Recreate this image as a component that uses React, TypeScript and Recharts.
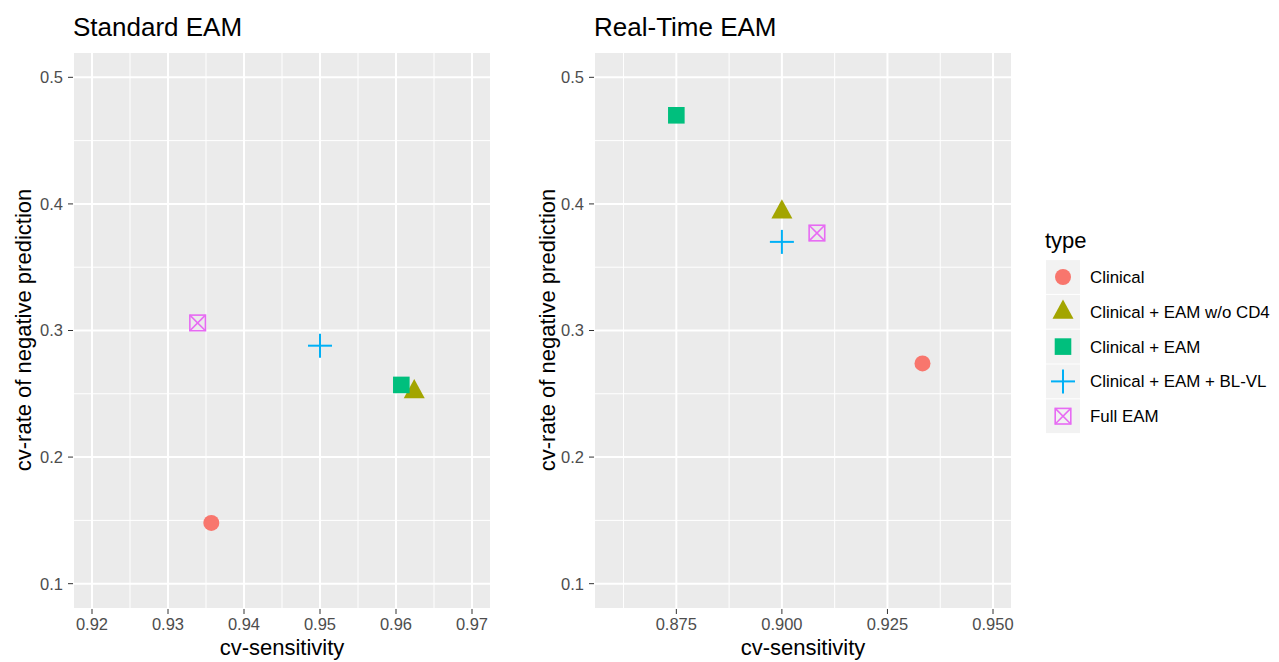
import React from "react";
import { ScatterChart, Scatter, XAxis, YAxis, CartesianGrid, ReferenceLine } from "recharts";

// model types, in legend order
const types = [
  "Clinical",
  "Clinical + EAM w/o CD4",
  "Clinical + EAM",
  "Clinical + EAM + BL-VL",
  "Full EAM",
];
const colors = ["#F8766D", "#A3A500", "#00BF7D", "#00B0F6", "#E76BF3"];

// Standard EAM panel
const standardSens = [0.9357, 0.9624, 0.9607, 0.95, 0.9339];
const standardNpr = [0.148, 0.252, 0.257, 0.288, 0.306];

// Real-Time EAM panel
const realTimeSens = [0.9333, 0.9, 0.875, 0.9, 0.9083];
const realTimeNpr = [0.274, 0.394, 0.47, 0.37, 0.377];

const yTicks = [0.1, 0.2, 0.3, 0.4, 0.5];
const yMinor = [0.15, 0.25, 0.35, 0.45];
const standardXTicks = [0.92, 0.93, 0.94, 0.95, 0.96, 0.97];
const standardXMinor = [0.925, 0.935, 0.945, 0.955, 0.965];
const realTimeXTicks = [0.875, 0.9, 0.925, 0.95];
const realTimeXMinor = [0.8625, 0.8875, 0.9125, 0.9375];

const FONT = "'Liberation Sans', Arial, Helvetica, sans-serif";
const PANEL_BG = "#EBEBEB";

// ggplot-like point shapes
const drawShape = (i: number, cx: number, cy: number, color: string) => {
  switch (i) {
    case 0:
      return <circle cx={cx} cy={cy} r={8} fill={color} />;
    case 1:
      return (
        <polygon
          points={`${cx},${cy - 12.2} ${cx + 10.5},${cy + 7} ${cx - 10.5},${cy + 7}`}
          fill={color}
        />
      );
    case 2:
      return <rect x={cx - 8.3} y={cy - 8.3} width={16.6} height={16.6} fill={color} />;
    case 3:
      return (
        <g stroke={color} strokeWidth={2}>
          <line x1={cx - 12} y1={cy} x2={cx + 12} y2={cy} />
          <line x1={cx} y1={cy - 12} x2={cx} y2={cy + 12} />
        </g>
      );
    default:
      return (
        <g stroke={color} strokeWidth={1.6} fill="none">
          <rect x={cx - 7.8} y={cy - 7.8} width={15.6} height={15.6} />
          <line x1={cx - 7.8} y1={cy - 7.8} x2={cx + 7.8} y2={cy + 7.8} />
          <line x1={cx + 7.8} y1={cy - 7.8} x2={cx - 7.8} y2={cy + 7.8} />
        </g>
      );
  }
};

type PanelProps = {
  left: number;
  sens: number[];
  npr: number[];
  xDomain: [number, number];
  xTicks: number[];
  xMinor: number[];
  digits: number;
};

function Panel({ left, sens, npr, xDomain, xTicks, xMinor, digits }: PanelProps) {
  return (
    <div style={{ position: "absolute", left, top: 0 }}>
      <ScatterChart width={500} height={662} margin={{ top: 52, right: 9, bottom: 0, left: 0 }}>
        <CartesianGrid fill={PANEL_BG} stroke="#FFFFFF" strokeWidth={2} />
        {xMinor.map((v) => (
          <ReferenceLine key={"x" + v} x={v} stroke="#FFFFFF" strokeWidth={1} />
        ))}
        {yMinor.map((v) => (
          <ReferenceLine key={"y" + v} y={v} stroke="#FFFFFF" strokeWidth={1} />
        ))}
        <XAxis
          type="number"
          dataKey="x"
          domain={xDomain}
          ticks={xTicks}
          interval={0}
          allowDataOverflow
          height={53}
          axisLine={false}
          tickSize={5}
          tickMargin={4}
          tickLine={{ stroke: "#333333", strokeWidth: 1 }}
          tick={{ fill: "#4D4D4D", fontSize: 16.5, fontFamily: FONT }}
          tickFormatter={(v: number) => v.toFixed(digits)}
        />
        <YAxis
          type="number"
          dataKey="y"
          domain={[0.08, 0.52]}
          ticks={yTicks}
          interval={0}
          allowDataOverflow
          width={73}
          axisLine={false}
          tickSize={5}
          tickMargin={5}
          tickLine={{ stroke: "#333333", strokeWidth: 1 }}
          tick={{ fill: "#4D4D4D", fontSize: 16.5, fontFamily: FONT }}
          tickFormatter={(v: number) => v.toFixed(1)}
        />
        {types.map((t, i) => (
          <Scatter
            key={t}
            name={t}
            data={[{ x: sens[i], y: npr[i] }]}
            isAnimationActive={false}
            shape={(p: any) => drawShape(i, p.cx, p.cy, colors[i])}
          />
        ))}
      </ScatterChart>
    </div>
  );
}

export default function App() {
  return (
    <div style={{ position: "absolute", left: 0, top: 0, width: 1279, height: 662, background: "#fff" }}>
      <Panel
        left={0}
        sens={standardSens}
        npr={standardNpr}
        xDomain={[0.9175, 0.9725]}
        xTicks={standardXTicks}
        xMinor={standardXMinor}
        digits={2}
      />
      <Panel
        left={521}
        sens={realTimeSens}
        npr={realTimeNpr}
        xDomain={[0.8555, 0.9545]}
        xTicks={realTimeXTicks}
        xMinor={realTimeXMinor}
        digits={3}
      />
      {/* titles, axis titles and the shared legend */}
      <svg
        width={1279}
        height={662}
        style={{ position: "absolute", left: 0, top: 0, pointerEvents: "none" }}
        fontFamily={FONT}
      >
        <text x={73} y={36} fontSize={26} fill="#000">Standard EAM</text>
        <text x={594} y={36} fontSize={26} fill="#000">Real-Time EAM</text>
        <text x={282} y={655} fontSize={22} textAnchor="middle" fill="#000">cv-sensitivity</text>
        <text x={803} y={655} fontSize={22} textAnchor="middle" fill="#000">cv-sensitivity</text>
        <text x={31} y={330} fontSize={22} textAnchor="middle" fill="#000" transform="rotate(-90 31 330)">
          cv-rate of negative prediction
        </text>
        <text x={555} y={330} fontSize={22} textAnchor="middle" fill="#000" transform="rotate(-90 555 330)">
          cv-rate of negative prediction
        </text>
        <text x={1045} y={248} fontSize={22} fill="#000">type</text>
        {types.map((t, i) => {
          const cy = 277 + i * 34.8;
          return (
            <g key={t}>
              <rect x={1046} y={cy - 16.9} width={34} height={33.8} fill="#F2F2F2" />
              {drawShape(i, 1063, cy, colors[i])}
              <text x={1090} y={cy + 6} fontSize={16.9} fill="#000">{t}</text>
            </g>
          );
        })}
      </svg>
    </div>
  );
}
